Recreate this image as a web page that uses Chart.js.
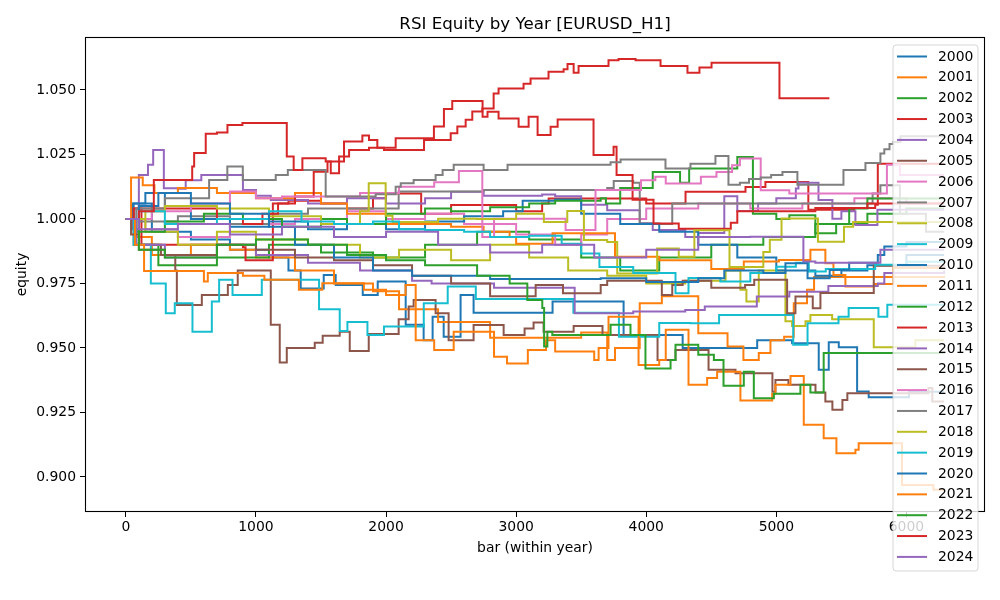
<!DOCTYPE html>
<html>
<head>
<meta charset="utf-8">
<script src="https://cdn.jsdelivr.net/npm/chart.js@4.4.1/dist/chart.umd.min.js"></script>
<style>
  html, body { margin: 0; padding: 0; background: #fff; }
  canvas { display: block; }
</style>
</head>
<body>
<canvas id="c" width="1000" height="600"></canvas>
<script>
// ---------- data: step points [bar, equity] (equity changes at that bar) ----------
const years = ['2000','2001','2002','2003','2004','2005','2006','2007','2008','2009','2010','2011','2012','2013','2014','2015','2016','2017','2018','2019','2020','2021','2022','2023','2024'];
const colors = ['#1f77b4','#ff7f0e','#2ca02c','#d62728','#9467bd','#8c564b','#e377c2','#7f7f7f','#bcbd22','#17becf'];

const s2000 = [[0,1.0],[60,1.006],[200,0.995],[500,0.992],[800,0.988],[1100,0.985],[1250,0.98],[1344,0.973],[1521,0.9783],[1613,0.9744],[1821,0.9705],[1936,0.9757],[2151,0.959],[2289,0.953],[2358,0.9621],[2443,0.9543],[2573,0.9705],[2673,0.9636],[3280,0.968],[3826,0.955],[4280,0.95],[4853,0.953],[5121,0.9518],[5326,0.9415],[5403,0.9522],[5480,0.9503],[5621,0.9331],[5710,0.9309],[6020,0.933],[6290,0.933]];
const s2001 = [[0,1.0],[80,0.993],[200,0.986],[500,0.99],[800,0.988],[1000,0.985],[1300,0.98],[1600,0.975],[1900,0.972],[2100,0.965],[2400,0.96],[2800,0.9539],[3400,0.9539],[3500,0.956],[3700,0.9453],[3760,0.95],[3950,0.9673],[4120,0.97],[4400,0.9557],[4625,0.9505],[4747,0.9453],[4865,0.948],[4955,0.953],[5060,0.9543],[5134,0.9673],[5236,0.9725],[5290,0.9775],[6290,0.978]];
const s2002 = [[0,1.0],[100,0.99],[250,0.982],[700,0.985],[1100,0.99],[1500,0.987],[1900,0.985],[2300,0.99],[2700,0.995],[3100,0.992],[3500,0.985],[3800,0.98],[4100,0.985],[4500,0.99],[4900,0.993],[5300,0.998],[5700,1.002],[6000,1.004],[6290,1.004]];
const s2003 = [[0,1.0],[60,1.004],[120,0.99],[900,0.989],[920,0.984],[1114,0.984],[1130,1.006],[1250,1.007],[1500,1.006],[1700,1.004],[1900,1.008],[2000,1.0098],[2250,1.0098],[2270,1.002],[2500,1.0054],[2950,1.0054],[3000,1.003],[3200,1.006],[3250,1.0079],[3800,1.0079],[4000,1.006],[4302,1.0105],[4763,1.0124],[4916,1.0143],[5246,1.0035],[5600,1.0042],[5760,1.0055],[5780,1.0214],[6290,1.0214]];
const s2004 = [[0,1.0],[50,0.996],[100,1.017],[170,1.021],[210,1.0267],[292,1.0119],[400,1.0117],[460,1.015],[580,1.017],[900,1.0112],[1000,1.009],[1114,1.0073],[1400,1.006],[1700,1.008],[2000,1.006],[2300,1.008],[2500,1.0105],[2750,1.009],[3200,1.0095],[3300,1.0088],[3500,1.0055],[3700,1.0034],[3950,0.9983],[4050,0.9957],[4300,0.993],[4400,0.9945],[4600,1.0088],[4700,1.0031],[4860,1.006],[5000,1.008],[5150,1.0118],[5170,1.014],[5324,1.0073],[5431,1.0001],[5500,1.003],[5608,0.9976],[5777,1.0035],[6290,1.0035]];
const s2005 = [[0,1.0],[60,0.99],[270,0.986],[380,0.98],[392,0.9666],[584,0.9705],[784,0.9744],[860,0.98],[1114,0.959],[1183,0.9443],[1237,0.95],[1452,0.952],[1513,0.9547],[1644,0.9563],[1721,0.9488],[1867,0.9554],[2097,0.9611],[2174,0.966],[2212,0.9686],[2381,0.9634],[2481,0.953],[2673,0.9589],[2904,0.955],[3065,0.9575],[3134,0.9598],[3211,0.9563],[3442,0.9585],[3664,0.955],[4087,0.9453],[4225,0.9492],[4479,0.9415],[4686,0.9402],[4970,0.933],[4993,0.9376],[5093,0.9357],[5301,0.9327],[5377,0.9292],[5431,0.926],[5508,0.9298],[5546,0.9324],[6169,0.9345],[6199,0.9292],[6290,0.9292]];
const s2006 = [[0,1.0],[150,0.996],[400,0.993],[800,0.998],[1300,1.0],[1700,1.003],[2000,1.0],[2300,1.002],[2600,0.998],[3000,0.994],[3300,0.99],[3500,0.994],[3700,1.0],[4000,1.004],[4400,1.006],[4800,1.004],[5200,1.006],[5600,1.008],[6000,1.006],[6290,1.006]];
const s2007 = [[0,1.0],[100,0.999],[400,1.001],[800,0.998],[1100,1.002],[1400,1.004],[2097,1.0106],[2750,1.0112],[3600,1.0112],[3700,1.012],[3750,1.0147],[3900,1.014],[3950,0.9982],[4100,0.998],[4200,1.006],[5700,1.006],[5740,1.0098],[5800,1.013],[5900,1.013],[5950,1.002],[6150,0.995],[6290,0.995]];
const s2008 = [[0,1.0],[150,0.995],[400,0.99],[700,0.995],[1000,0.992],[1400,0.99],[1800,0.985],[2100,0.988],[2500,0.984],[2800,0.99],[3100,0.985],[3400,0.98],[3700,0.978],[4000,0.975],[4300,0.976],[4610,0.98],[4724,0.9725],[4770,0.968],[4865,0.98],[5070,0.9603],[5121,0.9585],[5224,0.9603],[5262,0.9628],[5429,0.9611],[5749,0.9503],[6069,0.953],[6290,0.953]];
const s2009 = [[0,1.0],[60,0.99],[192,0.975],[307,0.9634],[376,0.9673],[512,0.9563],[661,0.968],[717,0.9764],[820,0.9705],[1045,0.9764],[1485,0.965],[1644,0.9566],[1703,0.96],[1857,0.955],[1984,0.9583],[2290,0.9673],[2474,0.9738],[2690,0.969],[3440,0.9636],[3790,0.9543],[4100,0.9597],[4340,0.9596],[4560,0.9628],[5130,0.9512],[5240,0.9596],[5478,0.9621],[5556,0.9655],[5785,0.9621],[5853,0.9667],[6290,0.9667]];
const s2010 = [[0,1.0],[50,1.006],[150,1.01],[300,1.005],[500,1.0],[800,0.997],[1100,0.999],[1400,0.996],[1700,0.998],[2000,0.996],[2300,0.999],[2600,1.001],[2900,1.003],[3050,1.007],[3300,1.0075],[3500,1.002],[3800,0.998],[4100,0.995],[4400,0.99],[4700,0.985],[5000,0.98],[5300,0.978],[5500,0.98],[5700,0.982],[6000,0.986],[6290,0.986]];
const s2011 = [[0,1.0],[40,1.016],[130,1.013],[220,1.01],[400,1.012],[700,1.01],[1000,1.008],[1300,1.01],[1500,1.006],[1700,1.002],[2000,0.998],[2500,0.997],[2750,0.995],[2950,0.993],[3000,0.9904],[3280,0.9944],[3760,0.9853],[4100,0.984],[4500,0.9806],[4750,0.9835],[5020,0.9841],[5262,0.988],[5377,0.9828],[5439,0.9783],[5531,0.9738],[5750,0.9748],[5900,0.981],[6290,0.981]];
const s2012 = [[0,1.0],[80,0.995],[300,0.999],[600,1.002],[900,1.0],[1200,0.997],[1500,1.0],[1700,0.998],[2000,1.002],[2300,1.004],[2500,1.003],[2800,1.0045],[3100,1.006],[3300,1.007],[3650,1.008],[3690,1.006],[3800,1.012],[4050,1.0182],[4250,1.0182],[4260,1.014],[4330,1.0195],[4700,1.024],[4820,1.002],[5000,1.0],[5100,1.0014],[5300,0.9944],[5460,0.998],[5560,1.004],[5700,1.0079],[6290,1.0079]];
const s2013 = [[0,1.0],[60,1.004],[500,1.004],[700,1.0],[900,0.998],[1050,1.002],[1170,1.006],[1300,1.0087],[1444,1.0183],[1550,1.0222],[1677,1.03],[1818,1.0323],[1869,1.0306],[1933,1.0276],[2074,1.0313],[2368,1.0358],[2445,1.0426],[2509,1.0457],[2742,1.0396],[2780,1.0415],[2865,1.0389],[3019,1.0357],[3096,1.0396],[3165,1.0325],[3265,1.0357],[3319,1.0385],[3595,1.0248],[3749,1.028],[3772,1.017],[3895,1.0074],[4056,0.9982],[4250,0.9962],[4650,0.9985],[4700,1.003],[5300,1.0042],[5700,1.006],[6290,1.006]];
const s2014 = [[0,1.0],[80,0.99],[300,0.985],[700,0.99],[1000,0.986],[1400,0.983],[1800,0.98],[2200,0.976],[2350,0.975],[2830,0.9733],[3450,0.9634],[3900,0.9641],[4300,0.9647],[4450,0.966],[4850,0.9699],[5100,0.9718],[5400,0.974],[5780,0.975],[5830,0.979],[6290,0.98]];
const s2015 = [[0,1.0],[40,0.994],[100,0.988],[300,0.986],[700,0.99],[1000,0.988],[1300,0.985],[1600,0.984],[1900,0.982],[2200,0.978],[2500,0.975],[2800,0.97],[3150,0.9744],[3360,0.9712],[3650,0.9744],[3700,0.976],[4120,0.9705],[4200,0.9744],[4280,0.976],[4500,0.9733],[4760,0.9744],[4830,0.9764],[5083,0.9634],[5147,0.9699],[5280,0.9654],[5339,0.9713],[5749,0.9818],[6290,0.982]];
const s2016 = [[0,1.0],[200,1.003],[500,1.006],[800,1.0106],[1000,1.008],[1200,1.0087],[1800,1.01],[2100,1.0125],[2370,1.0142],[2560,1.0186],[2740,0.993],[2830,1.0001],[3380,0.9957],[3610,1.0112],[3960,1.015],[4070,1.0163],[4150,1.0137],[4420,1.0163],[4540,1.0182],[4660,1.0208],[4720,1.0234],[4880,1.0111],[5100,1.0098],[5800,1.0098],[5850,1.021],[5950,1.017],[6290,1.017]];
const s2017 = [[0,1.0],[80,1.004],[300,1.008],[640,1.0151],[780,1.0203],[899,1.0151],[1152,1.017],[1245,1.019],[1536,1.0087],[1920,1.0096],[2074,1.0125],[2113,1.0138],[2212,1.0151],[2381,1.017],[2435,1.019],[2520,1.021],[2750,1.019],[2934,1.021],[3726,1.022],[3803,1.023],[4148,1.0195],[4340,1.0214],[4532,1.0244],[4632,1.0132],[4720,1.014],[4790,1.0155],[4880,1.016],[4960,1.017],[5047,1.0182],[5162,1.0132],[5516,1.019],[5685,1.0217],[5800,1.0253],[5830,1.027],[5870,1.029],[5900,1.0298],[5954,1.032],[6290,1.032]];
const s2018 = [[0,1.0],[150,1.003],[300,1.005],[700,1.004],[1100,1.001],[1500,0.998],[1800,1.003],[1867,1.0138],[1997,1.0012],[2050,0.9988],[2400,1.0001],[2700,1.0],[3000,1.002],[3213,0.9988],[3393,1.0031],[3521,0.9918],[3700,0.991],[3777,0.9788],[4084,0.9885],[4250,0.9853],[4370,0.9956],[4620,0.9956],[4640,0.9814],[4900,0.9872],[4950,0.9919],[5040,1.0002],[5320,0.9911],[5520,0.997],[5590,0.9988],[6290,0.9985]];
const s2019 = [[0,1.0],[100,1.003],[300,0.998],[700,1.0],[1100,1.003],[1350,0.999],[1600,0.998],[1900,0.999],[2100,0.996],[2300,0.9957],[2600,0.995],[2800,0.993],[3100,0.9935],[3350,0.9904],[3500,0.9866],[3640,0.9814],[3900,0.979],[4225,0.9712],[4325,0.9771],[4570,0.9757],[4800,0.979],[5000,0.9815],[5150,0.983],[5250,0.9796],[5380,0.9806],[5600,0.9806],[5760,0.9822],[6000,0.9834],[6290,0.9834]];
const s2020 = [[0,1.0],[100,1.005],[250,1.01],[500,1.006],[800,1.002],[1100,0.997],[1300,0.99],[1600,0.985],[1900,0.98],[2200,0.978],[2800,0.9767],[3650,0.977],[4000,0.9755],[4400,0.977],[4600,0.98],[4900,0.979],[5070,0.9828],[5240,0.977],[5410,0.9802],[5560,0.983],[5780,0.986],[5830,0.9893],[6000,0.991],[6290,0.991]];
const s2021 = [[0,1.0],[70,0.99],[140,0.9798],[490,0.9798],[600,0.9757],[630,0.979],[900,0.978],[1065,0.9764],[1330,0.9725],[1510,0.9751],[1830,0.9725],[2000,0.9705],[2150,0.9744],[2228,0.953],[2370,0.9492],[2520,0.9563],[2830,0.9466],[2930,0.944],[3090,0.9492],[3230,0.953],[3300,0.9486],[3600,0.9453],[3634,0.95],[3710,0.9621],[3941,0.9434],[4100,0.9453],[4150,0.957],[4325,0.9357],[4468,0.9383],[4545,0.9408],[4724,0.9296],[4968,0.9322],[4993,0.9357],[5109,0.9391],[5211,0.9202],[5364,0.915],[5462,0.9092],[5608,0.9105],[5633,0.913],[5966,0.8969],[6207,0.895],[6290,0.895]];
const s2022 = [[0,1.0],[100,0.988],[300,0.985],[700,0.99],[1000,0.992],[1400,0.99],[1700,0.986],[2000,0.984],[2300,0.982],[2700,0.978],[2950,0.975],[3086,0.9686],[3201,0.9655],[3215,0.9505],[3240,0.9563],[3278,0.955],[3726,0.959],[3879,0.955],[3994,0.942],[4187,0.9453],[4225,0.9512],[4400,0.9473],[4520,0.9453],[4594,0.9353],[4750,0.9408],[4827,0.9305],[4981,0.9322],[5185,0.9357],[5262,0.9327],[5364,0.948],[6290,0.9486]];
const s2023 = [[0,1.0],[100,1.003],[215,1.0151],[499,1.0151],[510,1.0203],[525,1.0255],[614,1.033],[700,1.0335],[781,1.0364],[896,1.0372],[1237,1.0242],[1290,1.019],[1357,1.0235],[1536,1.0222],[1575,1.0177],[1639,1.0242],[1716,1.0267],[1869,1.0276],[1984,1.0267],[2292,1.0306],[2497,1.0332],[2548,1.0358],[2612,1.0384],[2663,1.0416],[2740,1.0428],[2827,1.0486],[2865,1.0505],[3057,1.0524],[3111,1.0544],[3249,1.057],[3365,1.058],[3395,1.06],[3442,1.0566],[3480,1.0593],[3710,1.0615],[3787,1.062],[3918,1.0615],[4110,1.0593],[4317,1.0566],[4409,1.0587],[4502,1.0605],[5024,1.0468],[5408,1.0468]];
const s2024 = [[0,1.0],[100,0.996],[400,0.998],[800,0.994],[1200,0.997],[1600,0.993],[2000,0.995],[2400,0.99],[2800,0.987],[3200,0.99],[3600,0.985],[4000,0.988],[4400,0.993],[4800,0.9931],[5208,0.9835],[5300,0.983],[5800,0.988],[6290,0.988]];

const series = [s2000,s2001,s2002,s2003,s2004,s2005,s2006,s2007,s2008,s2009,s2010,s2011,s2012,s2013,s2014,s2015,s2016,s2017,s2018,s2019,s2020,s2021,s2022,s2023,s2024];

const xTicks = [0,1000,2000,3000,4000,5000,6000];
const yTicks = [0.900,0.925,0.950,0.975,1.000,1.025,1.050];
const xRange = [-314, 6604];
const yRange = [0.8864, 1.0705];

const titleText = 'RSI Equity by Year [EURUSD_H1]';
const xLabel = 'bar (within year)';
const yLabel = 'equity';
const FONT = 'DejaVu Sans';

const datasets = years.map((yr, i) => ({
  label: yr,
  data: series[i].map(p => ({x: p[0], y: p[1]})),
  borderColor: colors[i % 10],
  backgroundColor: colors[i % 10],
  borderWidth: 2,
  stepped: true,
  fill: false,
  pointRadius: 0,
  order: years.length - 1 - i
}));

const decor = {
  id: 'decor',
  afterDatasetsDraw(chart) {
    const {ctx, chartArea: a} = chart;
    ctx.save();
    ctx.strokeStyle = '#000';
    ctx.lineWidth = 1.1;
    ctx.strokeRect(Math.round(a.left) + 0.5, Math.round(a.top) + 0.5,
                   Math.round(a.right - a.left) - 1, Math.round(a.bottom - a.top) - 1);
    ctx.restore();
  },
  afterDraw(chart) {
    const {ctx, chartArea: a} = chart;
    ctx.save();
    ctx.fillStyle = '#000';
    // title
    ctx.font = '16.7px "' + FONT + '"';
    ctx.textAlign = 'center';
    ctx.textBaseline = 'alphabetic';
    ctx.fillText(titleText, (a.left + a.right) / 2, 28.5);
    // x label
    ctx.font = '13.9px "' + FONT + '"';
    ctx.textBaseline = 'middle';
    ctx.fillText(xLabel, (a.left + a.right) / 2, 548);
    // y label
    ctx.save();
    ctx.translate(22, (a.top + a.bottom) / 2);
    ctx.rotate(-Math.PI / 2);
    ctx.fillText(yLabel, 0, 0);
    ctx.restore();

    // legend
    const lx = 893, ly = 45, lw = 85, lh = 526, r = 3;
    ctx.beginPath();
    ctx.moveTo(lx + r, ly);
    ctx.lineTo(lx + lw - r, ly);
    ctx.quadraticCurveTo(lx + lw, ly, lx + lw, ly + r);
    ctx.lineTo(lx + lw, ly + lh - r);
    ctx.quadraticCurveTo(lx + lw, ly + lh, lx + lw - r, ly + lh);
    ctx.lineTo(lx + r, ly + lh);
    ctx.quadraticCurveTo(lx, ly + lh, lx, ly + lh - r);
    ctx.lineTo(lx, ly + r);
    ctx.quadraticCurveTo(lx, ly, lx + r, ly);
    ctx.closePath();
    ctx.fillStyle = 'rgba(255,255,255,0.8)';
    ctx.fill();
    ctx.strokeStyle = 'rgba(204,204,204,0.8)';
    ctx.lineWidth = 1;
    ctx.stroke();

    ctx.font = '13.9px "' + FONT + '"';
    ctx.textAlign = 'left';
    ctx.textBaseline = 'middle';
    years.forEach((yr, i) => {
      const yy = 56.5 + i * 20.85;
      ctx.strokeStyle = colors[i % 10];
      ctx.lineWidth = 2;
      ctx.beginPath();
      ctx.moveTo(897, yy);
      ctx.lineTo(927, yy);
      ctx.stroke();
      ctx.fillStyle = '#000';
      ctx.fillText(yr, 938, yy + 0.5);
    });
    ctx.restore();
  }
};

new Chart(document.getElementById('c'), {
  type: 'line',
  data: { datasets },
  options: {
    responsive: false,
    animation: false,
    events: [],
    layout: { padding: { top: 37, right: 15, left: 0, bottom: 0 } },
    plugins: { legend: { display: false }, title: { display: false }, tooltip: { enabled: false } },
    elements: { point: { radius: 0 }, line: { tension: 0 } },
    scales: {
      x: {
        type: 'linear',
        min: xRange[0], max: xRange[1],
        afterFit(s) { s.height = 88; },
        afterBuildTicks(s) { s.ticks = xTicks.map(v => ({ value: v })); },
        ticks: { color: '#000', font: { family: FONT, size: 13.9 }, padding: 2, maxRotation: 0, autoSkip: false,
                 callback: v => String(v) },
        grid: { drawOnChartArea: false, drawTicks: true, tickLength: 5, color: '#000', lineWidth: 1 },
        border: { display: false }
      },
      y: {
        type: 'linear',
        min: yRange[0], max: yRange[1],
        afterFit(s) { s.width = 85; },
        afterBuildTicks(s) { s.ticks = yTicks.map(v => ({ value: v })); },
        ticks: { color: '#000', font: { family: FONT, size: 13.9 }, padding: 4, autoSkip: false,
                 callback: v => Number(v).toFixed(3) },
        grid: { drawOnChartArea: false, drawTicks: true, tickLength: 5, color: '#000', lineWidth: 1 },
        border: { display: false }
      }
    }
  },
  plugins: [decor]
});
</script>
</body>
</html>
